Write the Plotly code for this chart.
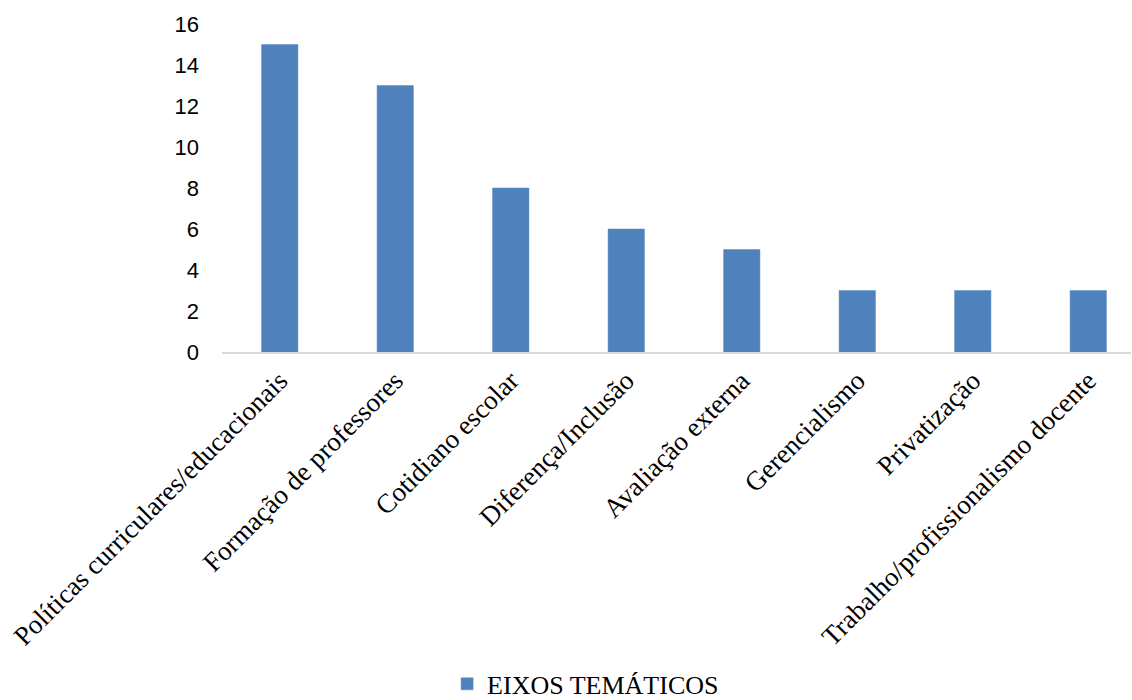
import plotly.graph_objects as go

# Thematic axes and number of works in each
categories = [
    "Políticas curriculares/educacionais",
    "Formação de professores",
    "Cotidiano escolar",
    "Diferença/Inclusão",
    "Avaliação externa",
    "Gerencialismo",
    "Privatização",
    "Trabalho/profissionalismo docente",
]
values = [15, 13, 8, 6, 5, 3, 3, 3]
series_name = "EIXOS TEMÁTICOS"
y_ticks = [0, 2, 4, 6, 8, 10, 12, 14, 16]

fig = go.Figure(
    go.Bar(
        x=categories,
        y=values,
        name=series_name,
        marker=dict(color="#4F81BD", line=dict(color="#5b8cc6", width=0.5)),
        showlegend=True,
    )
)

fig.update_layout(
    width=1132,
    height=700,
    margin=dict(l=222, r=1, t=24, b=348, autoexpand=False),
    paper_bgcolor="white",
    plot_bgcolor="white",
    bargap=0.685,
    showlegend=True,
    legend=dict(
        orientation="h",
        x=0.4,
        xanchor="center",
        y=-1.012,
        yanchor="middle",
        font=dict(family="Liberation Serif", size=26, color="#000000"),
        itemwidth=30,
    ),
    xaxis=dict(
        type="category",
        range=[-0.5, 7.37],
        automargin=False,
        showline=True,
        linecolor="#d9d9d9",
        linewidth=2,
        showgrid=False,
        ticks="",
        tickangle=-45,
        tickfont=dict(family="Liberation Serif", size=27, color="#000000"),
    ),
    yaxis=dict(
        range=[0, 16],
        tickvals=y_ticks,
        automargin=False,
        showline=False,
        showgrid=False,
        zeroline=False,
        ticks="",
        ticklabelstandoff=22,
        tickfont=dict(family="Liberation Sans", size=22, color="#000000"),
    ),
)

fig.write_html("out.html")
